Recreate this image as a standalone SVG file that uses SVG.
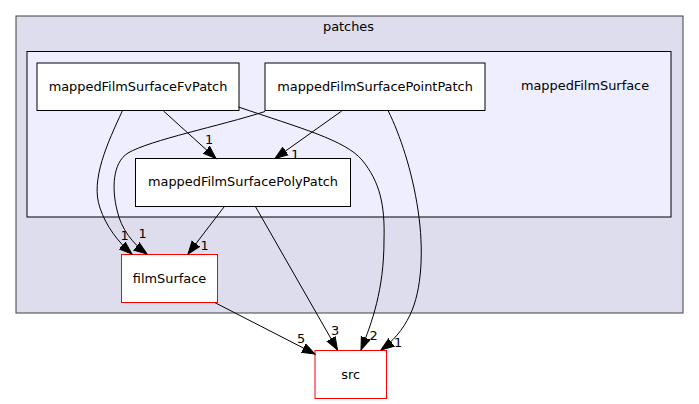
<svg xmlns="http://www.w3.org/2000/svg" width="699" height="404" viewBox="0 0 699 404">
<style>
text{font-family:"DejaVu Sans","Liberation Sans",sans-serif;font-size:12.9px;fill:#000}
.lbl{text-anchor:middle}
.node{fill:#fff;stroke:#000;stroke-width:1}
.red{fill:#fff;stroke:#ff0000;stroke-width:1}
.edge{fill:none;stroke:#000;stroke-width:1;marker-end:url(#ah)}
</style>
<defs>
<marker id="ah" markerUnits="userSpaceOnUse" markerWidth="16" markerHeight="12" viewBox="0 -6 16 12" refX="13" refY="0" orient="auto">
<path d="M0,-4.7 L13,0 L0,4.7 Z" fill="#000" stroke="#000" stroke-width="1"/>
</marker>
</defs>
<rect width="699" height="404" fill="#fff"/>
<g id="cluster_patches">
<rect x="16" y="16" width="667" height="297" fill="#ddddee" stroke="#404040"/>
<text class="lbl" x="348.5" y="31">patches</text>
</g>
<g id="cluster_mappedFilmSurface">
<rect x="27" y="51.5" width="644" height="165.5" fill="#eeeeff" stroke="#000"/>
<text class="lbl" x="585" y="90">mappedFilmSurface</text>
</g>
<g id="node_fvpatch">
<rect class="node" x="37" y="63" width="202" height="47.5"/>
<text class="lbl" x="138" y="91">mappedFilmSurfaceFvPatch</text>
</g>
<g id="node_pointpatch">
<rect class="node" x="265" y="63" width="220" height="47.5"/>
<text class="lbl" x="375" y="91">mappedFilmSurfacePointPatch</text>
</g>
<g id="node_polypatch">
<rect class="node" x="135.5" y="158.5" width="215" height="48"/>
<text class="lbl" x="243" y="186">mappedFilmSurfacePolyPatch</text>
</g>
<g id="node_filmSurface">
<rect class="red" x="121.5" y="254.5" width="96" height="48"/>
<text class="lbl" x="169.5" y="282.5">filmSurface</text>
</g>
<g id="node_src">
<rect class="red" x="315" y="350.5" width="71.5" height="48"/>
<text class="lbl" x="350.7" y="378.5">src</text>
</g>
<g id="connectors">
<path class="edge" d="M163.5,111 L216,158.5"/>
<text class="lbl" x="209" y="143.5">1</text>
<path class="edge" d="M341.7,111 L275,158.5"/>
<text class="lbl" x="295" y="158.5">1</text>
<path class="edge" d="M122.3,111 C108,142 90,180 100,208 C106,226 118,242 132,254"/>
<text class="lbl" x="124.5" y="240">1</text>
<path class="edge" d="M265,111.5 C220,126 150,140 128,153 C112,163 112,190 117,210 C121,229 133,244 147,254"/>
<text class="lbl" x="142.5" y="237.5">1</text>
<path class="edge" d="M224,207 L188,254"/>
<text class="lbl" x="204.5" y="250">1</text>
<path class="edge" d="M255.7,207 L337.5,350"/>
<text class="lbl" x="335" y="334.5">3</text>
<path class="edge" d="M238.5,107 C300,128 345,140 362,160 C380,182 385,205 384,240 C384,290 372,322 361,350"/>
<text class="lbl" x="373.5" y="340">2</text>
<path class="edge" d="M388.3,111 C400,135 412,170 418,210 C424,250 422,290 410,315 C403,330 392,342 381,350"/>
<text class="lbl" x="398" y="346.5">1</text>
<path class="edge" d="M215,302.7 L315,354"/>
<text class="lbl" x="301" y="342.5">5</text>
</g>
</svg>
